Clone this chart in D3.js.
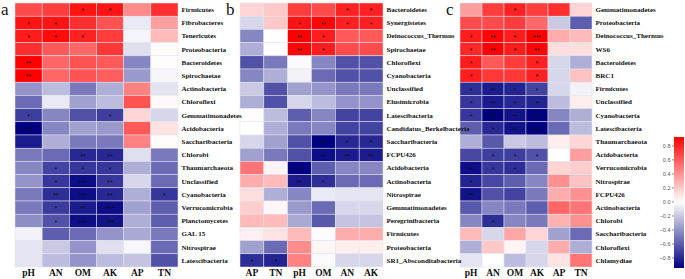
<!DOCTYPE html>
<html>
<head>
<meta charset="utf-8">
<script src="https://cdn.jsdelivr.net/npm/d3@7"></script>
<style>
  body { margin: 0; background: #fff; }
  svg { display: block; }
  .rlab { font-family: "Liberation Serif", "Times New Roman", serif; font-weight: bold; font-size: 7.05px; fill: #111; }
  .clab { font-family: "Liberation Serif", "Times New Roman", serif; font-weight: bold; font-size: 9.5px; fill: #111; }
  .letter { font-family: "Liberation Serif", "Times New Roman", serif; font-size: 17px; fill: #111; }
  .star { font-family: "Liberation Sans", Arial, sans-serif; font-size: 7px; fill: #111; }
  .leg text { font-family: "Liberation Sans", Arial, sans-serif; font-size: 5.5px; fill: #555; }
</style>
</head>
<body>
<div id="chart"></div>
<script>
//////////////////////////// data ////////////////////////////

const colsA = ["pH", "AN", "OM", "AK", "AP", "TN"];
const rowsA = ["Firmicutes", "Fibrobacteres", "Tenericutes", "Proteobacteria", "Bacteroidetes",
  "Spirochaetae", "Actinobacteria", "Chloroflexi", "Gemmatimonadetes", "Acidobacteria",
  "Saccharibacteria", "Chlorobi", "Thaumarchaeota", "Unclassified", "Cyanobacteria",
  "Verrucomicrobia", "Planctomycetes", "GAL 15", "Nitrospirae", "Latescibacteria"];
const valsA = [
  [0.65, 0.7, 0.85, 0.85, 0.42, 0.75],
  [0.85, 0.85, 0.75, 0.62, -0.08, 0.35],
  [0.82, 0.88, 0.8, 0.7, -0.04, 0.25],
  [0.75, 0.6, 0.55, 0.72, -0.12, 0.01],
  [0.92, 0.55, 0.62, 0.6, -0.45, 0.01],
  [0.92, 0.55, 0.62, 0.58, -0.38, -0.03],
  [-0.4, -0.25, -0.5, -0.3, 0.45, -0.1],
  [-0.55, -0.08, -0.35, -0.25, 0.62, 0.02],
  [-0.72, -0.45, -0.65, -0.72, 0.15, -0.15],
  [-0.95, -0.45, -0.35, -0.38, 0.6, 0.1],
  [-0.85, -0.3, -0.5, -0.5, 0.45, 0.01],
  [-0.5, -0.55, -0.8, -0.8, -0.12, -0.5],
  [-0.45, -0.7, -0.75, -0.75, -0.3, -0.55],
  [-0.4, -0.75, -0.9, -0.75, -0.15, -0.55],
  [-0.5, -0.78, -0.9, -0.8, -0.3, -0.75],
  [-0.5, -0.73, -0.85, -0.9, -0.35, -0.6],
  [-0.42, -0.65, -0.9, -0.88, -0.3, -0.6],
  [-0.05, -0.6, -0.55, -0.4, -0.32, -0.5],
  [-0.1, -0.2, -0.4, -0.12, -0.03, -0.55],
  [-0.1, -0.25, -0.4, -0.25, -0.22, -0.65]
];
const sigA = [
  [0, 0, 1, 1, 0, 0], [1, 1, 0, 0, 0, 0], [1, 1, 1, 0, 0, 0], [0, 0, 0, 0, 0, 0],
  [2, 0, 0, 0, 0, 0], [2, 0, 0, 0, 0, 0], [0, 0, 0, 0, 0, 0], [0, 0, 0, 0, 0, 0],
  [1, 0, 0, 1, 0, 0], [3, 0, 0, 0, 0, 0], [0, 0, 0, 0, 0, 0], [0, 0, 2, 2, 0, 0],
  [0, 1, 1, 1, 0, 0], [0, 1, 3, 2, 0, 0], [0, 2, 3, 2, 0, 1], [0, 1, 2, 3, 0, 0],
  [0, 1, 3, 3, 0, 0], [0, 0, 0, 0, 0, 0], [0, 0, 0, 0, 0, 0], [0, 0, 0, 0, 0, 0]
];

const colsB = ["AP", "TN", "pH", "OM", "AN", "AK"];
const rowsB = ["Bacteroidetes", "Synergistetes", "Deinococcus_Thermus", "Spirochaetae",
  "Chloroflexi", "Cyanobacteria", "Unclassified", "Elusimicrobia", "Latescibacteria",
  "Candidatus_Berkelbacteria", "Saccharibacteria", "FCPU426", "Acidobacteria",
  "Actinobacteria", "Nitrospirae", "Gemmatimonadetes", "Peregrinibacteria", "Firmicutes",
  "Proteobacteria", "SR1_Absconditabacteria"];
const valsB = [
  [0.15, 0.2, 0.7, 0.65, 0.8, 0.8],
  [-0.15, 0.2, 0.85, 0.9, 0.8, 0.8],
  [-0.45, 0.0, 0.95, 0.82, 0.6, 0.6],
  [-0.3, 0.0, 0.9, 0.82, 0.65, 0.65],
  [-0.65, -0.5, -0.02, -0.45, -0.65, -0.65],
  [-0.45, -0.3, -0.05, -0.55, -0.65, -0.65],
  [-0.2, -0.65, -0.35, -0.4, -0.5, -0.5],
  [-0.3, -0.65, -0.15, -0.25, -0.4, -0.4],
  [0.01, -0.25, -0.6, -0.45, -0.7, -0.7],
  [0.0, -0.3, -0.5, -0.45, -0.7, -0.7],
  [-0.15, -0.35, -0.65, -0.95, -0.8, -0.8],
  [-0.35, -0.5, -0.65, -0.9, -0.85, -0.85],
  [0.5, 0.04, -0.95, -0.6, -0.45, -0.45],
  [0.3, 0.25, -0.85, -0.78, -0.55, -0.55],
  [0.12, -0.3, -0.45, -0.08, -0.1, -0.1],
  [0.18, 0.03, -0.38, -0.55, -0.15, -0.15],
  [0.25, 0.25, -0.32, -0.62, -0.22, -0.22],
  [0.05, 0.1, 0.25, -0.01, 0.3, 0.3],
  [-0.35, -0.55, 0.42, 0.03, 0.06, 0.06],
  [-0.78, -0.82, 0.45, -0.02, -0.15, -0.15]
];
const sigB = [
  [0, 0, 0, 0, 1, 1], [0, 0, 1, 2, 1, 1], [0, 0, 2, 1, 0, 0], [0, 0, 2, 1, 0, 0],
  [0, 0, 0, 0, 0, 0], [0, 0, 0, 0, 0, 0], [0, 0, 0, 0, 0, 0], [0, 0, 0, 0, 0, 0],
  [0, 0, 0, 0, 0, 0], [0, 0, 0, 0, 0, 0], [0, 0, 0, 3, 1, 1], [0, 0, 0, 2, 2, 2],
  [0, 0, 3, 0, 0, 0], [0, 0, 2, 1, 0, 0], [0, 0, 0, 0, 0, 0], [0, 0, 0, 0, 0, 0],
  [0, 0, 0, 0, 0, 0], [0, 0, 0, 0, 0, 0], [0, 0, 0, 0, 0, 0], [1, 1, 0, 0, 0, 0]
];

const colsC = ["pH", "AN", "OM", "AK", "AP", "TN"];
const rowsC = ["Gemmatimonadetes", "Proteobacteria", "Deinococcus_Thermus", "WS6",
  "Bacteroidetes", "BRC1", "Firmicutes", "Unclassified", "Cyanobacteria", "Latescibacteria",
  "Thaumarchaeota", "Acidobacteria", "Verrucomicrobia", "Nitrospirae", "FCPU426",
  "Actinobacteria", "Chlorobi", "Saccharibacteria", "Chloroflexi", "Chlamydiae"];
const valsC = [
  [0.35, 0.7, 0.8, 0.7, 0.75, 0.15],
  [0.65, 0.65, 0.7, 0.55, -0.2, -0.6],
  [0.82, 0.9, 0.82, 0.95, 0.3, 0.25],
  [0.78, 0.92, 0.82, 0.9, 0.12, 0.12],
  [0.82, 0.6, 0.7, 0.8, -0.15, -0.3],
  [0.82, 0.72, 0.72, 0.8, -0.15, 0.22],
  [-0.78, -0.85, -0.82, -0.7, -0.15, -0.05],
  [-0.75, -0.85, -0.8, -0.82, -0.25, 0.06],
  [-0.75, -0.98, -0.88, -0.95, -0.45, -0.3],
  [-0.6, -0.8, -0.88, -0.95, -0.55, -0.25],
  [-0.3, -0.62, -0.2, -0.25, 0.06, 0.15],
  [-0.68, -0.72, -0.72, -0.65, 0.0, 0.35],
  [-0.9, -0.75, -0.78, -0.55, 0.15, 0.18],
  [-0.82, -0.68, -0.6, -0.45, 0.4, 0.22],
  [-0.88, -0.65, -0.7, -0.5, 0.3, 0.4],
  [-0.62, -0.45, -0.5, -0.6, 0.55, 0.5],
  [-0.45, -0.78, -0.45, -0.5, 0.28, 0.4],
  [0.25, -0.15, 0.32, 0.15, -0.35, -0.55],
  [-0.3, 0.2, 0.04, -0.15, 0.3, -0.3],
  [-0.1, 0.0, -0.25, -0.15, 0.1, 0.5]
];
const sigC = [
  [0, 0, 1, 0, 0, 0], [0, 0, 0, 0, 0, 0], [1, 2, 1, 3, 0, 0], [1, 2, 1, 2, 0, 0],
  [1, 0, 0, 1, 0, 0], [1, 0, 0, 1, 0, 0], [1, 2, 1, 1, 0, 0], [1, 2, 1, 1, 0, 0],
  [1, 3, 2, 3, 0, 0], [0, 1, 2, 3, 0, 0], [0, 0, 0, 0, 0, 0], [0, 1, 1, 1, 0, 0],
  [2, 1, 1, 0, 0, 0], [1, 0, 0, 0, 0, 0], [2, 0, 0, 0, 0, 0], [0, 0, 0, 0, 0, 0],
  [0, 1, 0, 0, 0, 0], [0, 0, 0, 0, 0, 0], [0, 0, 0, 0, 0, 0], [0, 0, 0, 0, 0, 0]
];

const legendTicks = [-0.8, -0.6, -0.4, -0.2, 0, 0.2, 0.4, 0.6, 0.8];
const colorDomain = [-0.95, 0, 0.92];

//////////////////////////// setup ////////////////////////////

const width = 685, height = 279;
const svg = d3.select("#chart").append("svg")
  .attr("width", width).attr("height", height);

const color = d3.scaleLinear().domain(colorDomain)
  .range(["#000080", "#ffffff", "#ff0000"]);

const panels = [
  { letter: "a", lx: 1, cols: colsA, rows: rowsA, vals: valsA, sig: sigA, x0: 15, x1: 178 },
  { letter: "b", lx: 226, cols: colsB, rows: rowsB, vals: valsB, sig: sigB, x0: 240, x1: 383 },
  { letter: "c", lx: 446, cols: colsC, rows: rowsC, vals: valsC, sig: sigC, x0: 460, x1: 592 }
];
const gridTop = 3, gridBottom = 267;

// draw grids first, labels after, so row labels are never hidden by the next panel
const grids = svg.append("g");
const labels = svg.append("g");

panels.forEach(p => {
  const x = d3.scaleBand().domain(p.cols).range([p.x0, p.x1]);
  const y = d3.scaleBand().domain(p.rows).range([gridTop, gridBottom]);
  const g = grids.append("g");

  const cells = p.rows.flatMap((r, i) => p.cols.map((c, j) =>
    ({ r, c, v: p.vals[i][j], s: p.sig[i][j] })));

  g.selectAll("rect.cell").data(cells).enter().append("rect")
    .attr("class", "cell")
    .attr("x", d => x(d.c)).attr("y", d => y(d.r))
    .attr("width", x.bandwidth()).attr("height", y.bandwidth())
    .attr("fill", d => color(d.v))
    .attr("stroke", "#e4e4ee").attr("stroke-width", 0.5);

  g.selectAll("text.star").data(cells.filter(d => d.s > 0)).enter().append("text")
    .attr("class", "star")
    .attr("x", d => x(d.c) + x.bandwidth() / 2)
    .attr("y", d => y(d.r) + y.bandwidth() / 2 + 3.8)
    .attr("text-anchor", "middle")
    .text(d => "*".repeat(d.s));

  const l = labels.append("g");
  l.selectAll("text.rlab").data(p.rows).enter().append("text")
    .attr("class", "rlab")
    .attr("x", p.x1 + 3.5)
    .attr("y", d => y(d) + y.bandwidth() / 2)
    .attr("dy", "0.35em")
    .text(d => d);

  l.selectAll("text.clab").data(p.cols).enter().append("text")
    .attr("class", "clab")
    .attr("x", d => x(d) + x.bandwidth() / 2)
    .attr("y", 276)
    .attr("text-anchor", "middle")
    .text(d => d);

  l.append("text").attr("class", "letter")
    .attr("x", p.lx).attr("y", 15).text(p.letter);
});

//////////////////////////// legend ////////////////////////////

const ly = d3.scaleLinear().domain([colorDomain[0], colorDomain[2]]).range([268, 137]);
const defs = svg.append("defs");
const grad = defs.append("linearGradient").attr("id", "lg")
  .attr("x1", 0).attr("y1", 1).attr("x2", 0).attr("y2", 0);
d3.range(0, 1.0001, 0.05).forEach(t => {
  const v = colorDomain[0] + t * (colorDomain[2] - colorDomain[0]);
  grad.append("stop").attr("offset", t).attr("stop-color", color(v));
});

const leg = svg.append("g").attr("class", "leg");
leg.append("rect").attr("x", 674).attr("y", 137)
  .attr("width", 10).attr("height", 131).attr("fill", "url(#lg)");

leg.append("g").attr("transform", "translate(674,0)")
  .call(d3.axisLeft(ly).tickValues(legendTicks).tickSize(2).tickPadding(1.5)
    .tickFormat(d3.format(".1f")))
  .call(a => a.select(".domain").remove())
  .call(a => a.selectAll("line").attr("stroke", "#888"));
</script>
</body>
</html>
